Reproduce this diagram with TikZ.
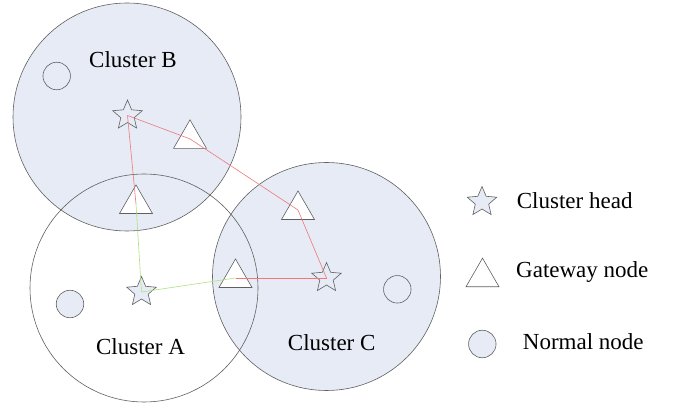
\documentclass[tikz,border=0pt]{standalone}
\usepackage{fontspec}
\setmainfont{Liberation Serif}
\usetikzlibrary{shapes.geometric}
\definecolor{cfill}{HTML}{E6EBF5}
\definecolor{cedge}{HTML}{606060}
\definecolor{lred}{HTML}{F07878}
\definecolor{lgreen}{HTML}{B0E080}
\tikzset{
  cluster/.style={circle, draw=cedge, line width=0.6pt, minimum size=228pt, inner sep=0pt},
  headnode/.style={star, star points=5, star point ratio=2.2, draw=cedge, fill=cfill, line width=0.6pt, minimum size=31pt, inner sep=0pt},
  gatenode/.style={regular polygon, regular polygon sides=3, draw=cedge, fill=white, line width=0.6pt, minimum size=38.1pt, inner sep=0pt},
  normnode/.style={circle, draw=cedge, fill=cfill, line width=0.6pt, minimum size=27.5pt, inner sep=0pt},
  lbl/.style={font=\fontsize{23}{26}\selectfont, inner sep=0pt},
  redlink/.style={draw=lred, line width=0.6pt},
  greenlink/.style={draw=lgreen, line width=0.6pt}
}
\begin{document}
\begin{tikzpicture}[x=1pt, y=-1pt]
\useasboundingbox (0,0) rectangle (675,403);
% clusters
\node[cluster, fill=cfill] (cB) at (127,117) {};
\node[cluster, fill=cfill] (cC) at (326.5,276.5) {};
\node[cluster] (cA) at (144,288) {};
% labels
\node[lbl, anchor=base] (tB) at (133,68) {Cluster B};
\node[lbl, anchor=base] (tA) at (140.5,355) {Cluster A};
\node[lbl, anchor=base] (tC) at (331.7,351) {Cluster C};
% normal nodes
\node[normnode] (nB) at (56.7,76) {};
\node[normnode] (nA) at (70,304) {};
\node[normnode] (nC) at (397.3,289.3) {};
% gateway nodes
\node[gatenode] (gB) at (190,138.9) {};
\node[gatenode] (gAB) at (136,204) {};
\node[gatenode] (gBC) at (298,210) {};
\node[gatenode] (gAC) at (235.5,278) {};
% cluster heads
\node[headnode] (sB) at (127.5,115.5) {};
\node[headnode] (sA) at (141.5,292) {};
\node[headnode] (sC) at (326.5,278) {};
% links
\draw[redlink] (sB.center) -- (gB.center) -- (gBC.center) -- (sC.center);
\draw[redlink] (sB.center) -- (gAB.center);
\draw[greenlink] (gAB.center) -- (sA.center);
\draw[greenlink] (sA.center) -- (gAC.center);
\draw[redlink] (gAC.center) -- (sC.center);
% legend
\node[headnode] (lS) at (482,202) {};
\node[gatenode] (lG) at (482.5,277.2) {};
\node[normnode] (lN) at (482.3,344) {};
\node[lbl, anchor=base west] (lSt) at (516.7,209) {Cluster head};
\node[lbl, anchor=base west] (lGt) at (516,278) {Gateway node};
\node[lbl, anchor=base west] (lNt) at (522.7,350) {Normal node};
\end{tikzpicture}
\end{document}
